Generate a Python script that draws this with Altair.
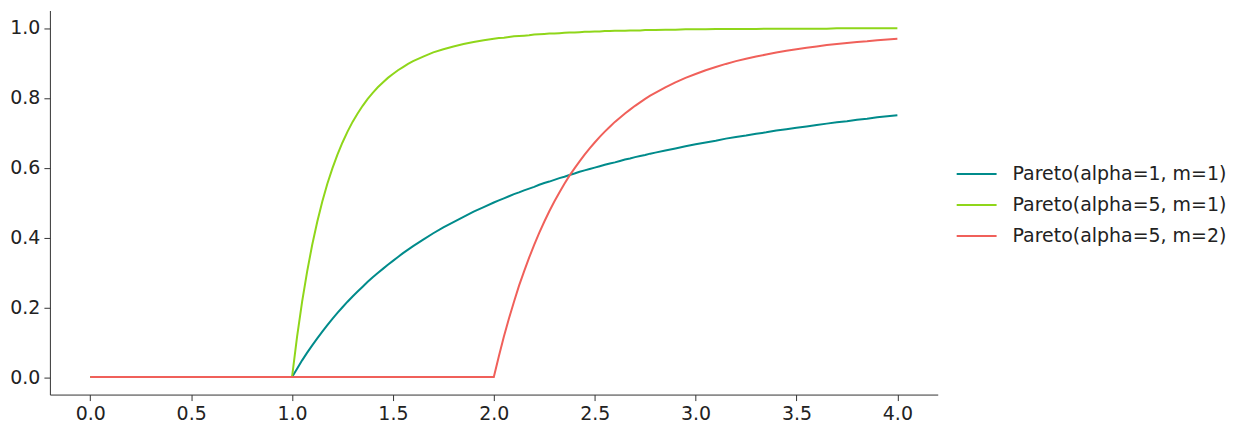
import altair as alt
import pandas as pd

xs = [0.0, 0.5,
      1.0, 1.025, 1.05, 1.075, 1.1, 1.125, 1.15, 1.175, 1.2, 1.225, 1.25, 1.275, 1.3,
      1.325, 1.35, 1.375, 1.4, 1.425, 1.45, 1.475, 1.5, 1.525, 1.55, 1.575, 1.6,
      1.65, 1.7, 1.75, 1.8, 1.85, 1.9, 1.95,
      2.0, 2.025, 2.05, 2.075, 2.1, 2.125, 2.15, 2.175, 2.2, 2.225, 2.25, 2.275, 2.3,
      2.325, 2.35, 2.375, 2.4, 2.425, 2.45, 2.475, 2.5, 2.525, 2.55, 2.575, 2.6, 2.625,
      2.65, 2.675, 2.7, 2.725, 2.75, 2.775, 2.8,
      2.85, 2.9, 2.95, 3.0, 3.05, 3.1, 3.15, 3.2, 3.25, 3.3, 3.35, 3.4, 3.45, 3.5, 3.55,
      3.6, 3.65, 3.7, 3.75, 3.8, 3.85, 3.9, 3.95, 4.0]

pareto_a1_m1 = [0, 0,
                0, .024, .048, .070, .091, .111, .130, .149, .167, .184, .200, .216, .231,
                .245, .259, .273, .286, .298, .310, .322, .333, .344, .355, .365, .375,
                .394, .412, .429, .444, .459, .474, .487,
                .500, .506, .512, .518, .524, .529, .535, .540, .545, .551, .556, .560, .565,
                .570, .574, .579, .583, .588, .592, .596, .600, .604, .608, .612, .615, .619,
                .623, .626, .630, .633, .636, .640, .643,
                .649, .655, .661, .667, .672, .677, .683, .688, .692, .697, .701, .706, .710,
                .714, .718, .722, .726, .730, .733, .737, .740, .744, .747, .750]

pareto_a5_m1 = [0, 0,
                0, .116, .216, .303, .379, .445, .503, .554, .598, .637, .672, .703, .731,
                .755, .777, .797, .814, .830, .844, .857, .868, .879, .888, .897, .905,
                .918, .930, .939, .947, .954, .960, .965,
                .969, .971, .972, .974, .976, .977, .978, .979, .981, .982, .983, .984, .984,
                .985, .986, .987, .987, .988, .989, .989, .990, .990, .991, .991, .992, .992,
                .992, .993, .993, .993, .994, .994, .994,
                .995, .995, .996, .996, .996, .997, .997, .997, .997, .997, .998, .998, .998,
                .998, .998, .998, .998, .999, .999, .999, .999, .999, .999, .999]

pareto_a5_m2 = [0, 0,
                0, 0, 0, 0, 0, 0, 0, 0, 0, 0, 0, 0, 0,
                0, 0, 0, 0, 0, 0, 0, 0, 0, 0, 0, 0,
                0, 0, 0, 0, 0, 0, 0,
                0, .060, .116, .168, .216, .262, .303, .342, .379, .413, .445, .475, .503,
                .529, .554, .577, .598, .618, .637, .655, .672, .688, .703, .717, .731, .743,
                .755, .766, .777, .787, .797, .806, .814,
                .830, .844, .857, .868, .879, .888, .897, .905, .912, .918, .924, .930, .935,
                .939, .943, .947, .951, .954, .957, .960, .962, .965, .967, .969]

series_names = ["Pareto(alpha=1, m=1)", "Pareto(alpha=5, m=1)", "Pareto(alpha=5, m=2)"]
series_colors = ["#008b8b", "#8fd61a", "#f0605a"]

rows = []
for name, vals in zip(series_names, [pareto_a1_m1, pareto_a5_m1, pareto_a5_m2]):
    for i, (x, y) in enumerate(zip(xs, vals)):
        rows.append({"x": x, "y": y, "series": name, "order": i})
df = pd.DataFrame(rows)

font = "DejaVu Sans"

chart = alt.Chart(df).mark_line(strokeWidth=2).encode(
    x=alt.X("x:Q", scale=alt.Scale(domain=[-0.2, 4.2], nice=False, zero=False),
            axis=alt.Axis(values=[0, 0.5, 1, 1.5, 2, 2.5, 3, 3.5, 4], format=".1f",
                          title=None, grid=False)),
    y=alt.Y("y:Q", scale=alt.Scale(domain=[-0.05, 1.05], nice=False, zero=False),
            axis=alt.Axis(values=[0, 0.2, 0.4, 0.6, 0.8, 1.0], format=".1f",
                          title=None, grid=False)),
    color=alt.Color("series:N",
                    scale=alt.Scale(domain=series_names, range=series_colors),
                    legend=alt.Legend(title=None, orient="none", legendX=908, legendY=143,
                                      symbolType="stroke", symbolSize=1600,
                                      symbolStrokeWidth=2, labelOffset=15,
                                      labelFontSize=19, labelFont=font, labelLimit=400,
                                      labelColor="#222222", rowPadding=-1.5)),
    order="order:Q",
).properties(
    width=890, height=385,
    padding={"left": 42, "top": 2, "right": 300, "bottom": 30},
    autosize=alt.AutoSizeParams(type="none"),
).configure_view(stroke=None).configure_axis(
    labelFont=font, labelFontSize=19, labelColor="#222222",
    domainColor="#333333", tickColor="#333333", tickSize=6,
    labelPadding=4,
)

chart.save("out.html", embed_options={"renderer": "svg", "actions": False})
